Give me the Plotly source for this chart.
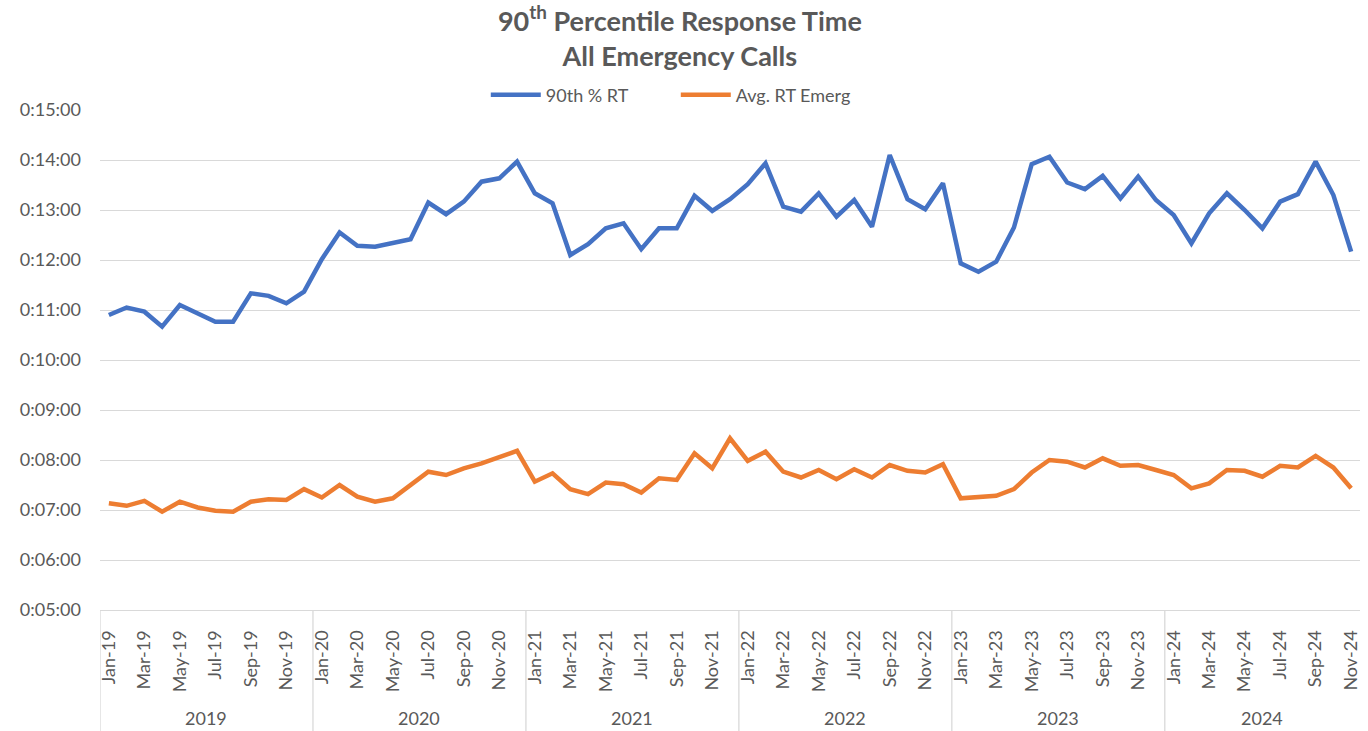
import plotly.graph_objects as go

# ---------------- data ----------------
month_names = ["Jan", "Feb", "Mar", "Apr", "May", "Jun",
               "Jul", "Aug", "Sep", "Oct", "Nov", "Dec"]
years = ["2019", "2020", "2021", "2022", "2023", "2024"]
months_per_year = [12, 12, 12, 12, 12, 11]

months = [f"{m}-{y[2:]}" for y, n in zip(years, months_per_year) for m in month_names[:n]]

# 90th percentile response time (m:ss)
rt90 = ["10:54", "11:03", "10:58", "10:40", "11:06", "10:56", "10:46", "10:46",
        "11:20", "11:17", "11:08", "11:22",
        "12:01", "12:33", "12:17", "12:16", "12:21", "12:25", "13:09", "12:55",
        "13:10", "13:34", "13:38", "13:58",
        "13:20", "13:08", "12:06", "12:19", "12:38", "12:44", "12:13", "12:38",
        "12:38", "13:17", "12:59", "13:13",
        "13:31", "13:56", "13:04", "12:58", "13:20", "12:52", "13:12", "12:40",
        "14:06", "13:13", "13:01", "13:32",
        "11:56", "11:46", "11:58", "12:39", "13:55", "14:04", "13:33", "13:25",
        "13:41", "13:14", "13:40", "13:12",
        "12:54", "12:20", "12:56", "13:20", "13:00", "12:38", "13:10", "13:19",
        "13:58", "13:18", "12:10"]

# Average emergency response time (m:ss)
rt_avg = ["7:08", "7:05", "7:11", "6:58", "7:10", "7:03", "6:59", "6:58",
          "7:10", "7:13", "7:12", "7:25",
          "7:15", "7:30", "7:16", "7:10", "7:14", "7:30", "7:46", "7:42",
          "7:50", "7:56", "8:03", "8:11",
          "7:34", "7:44", "7:25", "7:19", "7:33", "7:31", "7:21", "7:38",
          "7:36", "8:08", "7:50", "8:26",
          "7:59", "8:10", "7:46", "7:39", "7:48", "7:37", "7:49", "7:39",
          "7:54", "7:47", "7:45", "7:55",
          "7:14", "7:15", "7:17", "7:25", "7:45", "8:00", "7:58", "7:51",
          "8:02", "7:53", "7:54", "7:48",
          "7:42", "7:26", "7:32", "7:48", "7:47", "7:40", "7:53", "7:51",
          "8:05", "7:51", "7:26"]

y_ticks_sec = list(range(300, 901, 60))


def to_sec(s):
    m, sec = s.split(":")
    return int(m) * 60 + int(sec)


def fmt(sec):
    return f"0:{sec // 60:02d}:{sec % 60:02d}"


x_idx = list(range(len(months)))
rt90_s = [to_sec(v) for v in rt90]
rtavg_s = [to_sec(v) for v in rt_avg]

FONT = "Lato"
GREY = "#595959"
GRID = "#d9d9d9"

fig = go.Figure()
fig.add_trace(go.Scatter(
    x=x_idx, y=rt90_s, mode="lines", name="90th % RT",
    line=dict(color="#4472C4", width=4.5),
    customdata=rt90, hovertemplate="%{customdata}<extra>90th % RT</extra>"))
fig.add_trace(go.Scatter(
    x=x_idx, y=rtavg_s, mode="lines", name="Avg. RT Emerg",
    line=dict(color="#ED7D31", width=4.5),
    customdata=rt_avg, hovertemplate="%{customdata}<extra>Avg. RT Emerg</extra>"))

# year group labels and separators
start = 0
for yr, n in zip(years, months_per_year):
    fig.add_annotation(x=start + (n - 1) / 2, xref="x", y=-0.216, yref="paper",
                       text=yr, showarrow=False,
                       font=dict(family=FONT, size=18, color=GREY),
                       yanchor="middle")
    fig.add_shape(type="line", xref="x", yref="paper",
                  x0=start - 0.5, x1=start - 0.5, y0=0, y1=-0.245,
                  line=dict(color=GRID, width=1.3))
    start += n

fig.update_layout(
    template="none",
    width=1368, height=731,
    margin=dict(l=100, r=8, t=110, b=121, autoexpand=False),
    paper_bgcolor="white", plot_bgcolor="white",
    font=dict(family=FONT, color=GREY),
    title=dict(text="<b>90<sup>th</sup> Percentile Response Time<br>All Emergency Calls</b>",
               x=0.497, xref="container", xanchor="center",
               y=0.958, yref="container", yanchor="middle",
               font=dict(family=FONT, size=27, color=GREY), automargin=False),
    legend=dict(orientation="h", x=0.494, xanchor="center", xref="container",
                y=0.87, yanchor="middle", yref="container",
                font=dict(family=FONT, size=18, color=GREY),
                itemwidth=50, entrywidth=125, tracegroupgap=0,
                bgcolor="rgba(0,0,0,0)"),
    showlegend=True,
    hovermode="x unified",
)

fig.update_xaxes(
    automargin=False,
    range=[-0.5, len(months) - 0.5],
    tickmode="array", tickvals=x_idx[::2], ticktext=months[::2],
    tickangle=-90, tickfont=dict(family=FONT, size=18, color=GREY),
    showgrid=False, zeroline=False,
    showline=True, linecolor=GRID, linewidth=1.3,
    ticks="", ticklabelstandoff=12,
)
fig.update_yaxes(
    automargin=False,
    range=[300, 900],
    tickmode="array", tickvals=y_ticks_sec, ticktext=[fmt(v) for v in y_ticks_sec],
    tickfont=dict(family=FONT, size=18, color=GREY),
    showgrid=True, gridcolor=GRID, gridwidth=1.3,
    zeroline=False, showline=False, ticks="", ticklabelstandoff=18,
)

fig.write_html("out.html", config={"displayModeBar": False},
               post_script="document.body.style.margin='0';")
